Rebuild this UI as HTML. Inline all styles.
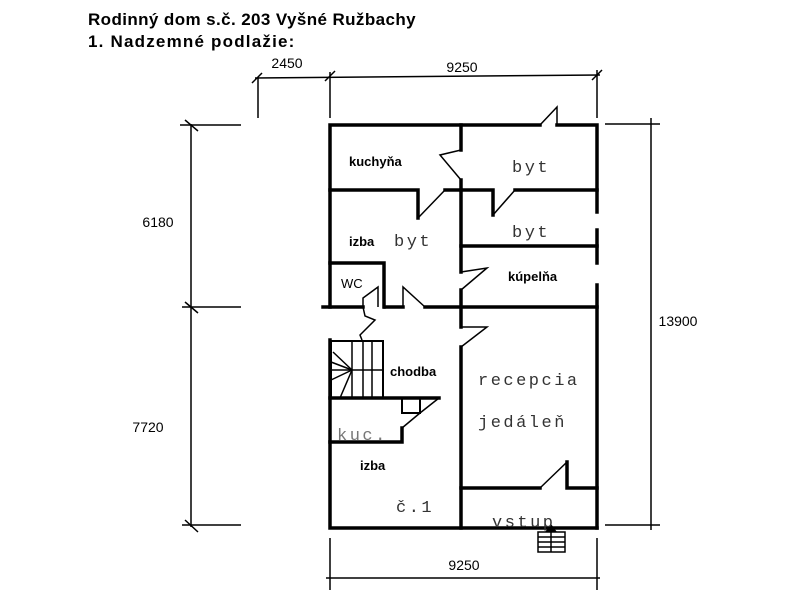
<!DOCTYPE html>
<html><head><meta charset="utf-8"><style>
html,body{margin:0;padding:0;background:#fff;width:800px;height:600px;overflow:hidden}
svg{display:block}
.t{font-family:"Liberation Sans",sans-serif;font-weight:bold}
.s{font-family:"Liberation Sans",sans-serif;font-size:13px}
.m{font-family:"Liberation Mono",monospace;font-size:17px;letter-spacing:2.5px}
</style></head><body>
<svg width="800" height="600" viewBox="0 0 800 600" xmlns="http://www.w3.org/2000/svg">
<text x="88" y="25" class="t" font-size="17" letter-spacing="0.4">Rodinný dom s.č. 203 Vyšné Ružbachy</text>
<text x="88" y="47" class="t" font-size="17" letter-spacing="1.2">1. Nadzemné podlažie:</text>
<g stroke="#000" stroke-width="1.5" fill="none">
<line x1="255" y1="78" x2="600" y2="75"/>
<line x1="258" y1="78" x2="258" y2="118"/>
<line x1="330" y1="72" x2="330" y2="118"/>
<line x1="597" y1="70" x2="597" y2="118"/>
<line x1="252" y1="83" x2="262" y2="73"/><line x1="325" y1="81" x2="335" y2="71"/><line x1="592" y1="80" x2="602" y2="70"/>
<line x1="191" y1="124" x2="191" y2="527"/>
<line x1="180" y1="125" x2="241" y2="125"/>
<line x1="182" y1="307" x2="241" y2="307"/>
<line x1="182" y1="525" x2="241" y2="525"/>
<line x1="185" y1="120" x2="198" y2="131"/><line x1="185" y1="302" x2="198" y2="313"/><line x1="185" y1="520" x2="198" y2="532"/>
<line x1="651" y1="118" x2="651" y2="530"/>
<line x1="605" y1="124" x2="660" y2="124"/>
<line x1="605" y1="525" x2="660" y2="525"/>
<line x1="330" y1="538" x2="330" y2="590"/>
<line x1="597" y1="538" x2="597" y2="590"/>
<line x1="326" y1="578" x2="600" y2="578"/>
</g>
<g stroke="#000" stroke-width="3.5" fill="none" stroke-linecap="square">
<polyline points="330,307 330,125 540,125"/>
<polyline points="557,125 597,125 597,212"/>
<line x1="597" y1="230" x2="597" y2="263"/>
<line x1="597" y1="285" x2="597" y2="528"/>
<polyline points="330,340 330,528 597,528"/>
<line x1="461" y1="125" x2="461" y2="150"/>
<line x1="461" y1="180" x2="461" y2="272"/>
<line x1="461" y1="290" x2="461" y2="327"/>
<line x1="461" y1="347" x2="461" y2="528"/>
<polyline points="330,190 418,190 418,218"/>
<line x1="445" y1="190" x2="461" y2="190"/>
<polyline points="461,190 493,190 493,215"/>
<line x1="515" y1="190" x2="597" y2="190"/>
<line x1="461" y1="246" x2="597" y2="246"/>
<line x1="323" y1="307" x2="363" y2="307"/>
<line x1="385" y1="307" x2="403" y2="307"/>
<line x1="425" y1="307" x2="597" y2="307"/>
<polyline points="330,263 384,263 384,307"/>
<rect x="331" y="341" width="52" height="57" stroke-width="2"/>
<line x1="330" y1="398" x2="439" y2="398"/>
<polyline points="402,398 402,413 420,413 420,398" stroke-width="2"/>
<polyline points="330,442 402,442 402,428"/>
<line x1="461" y1="488" x2="540" y2="488"/>
<polyline points="567,462 567,488 597,488"/>
</g>
<g stroke="#000" stroke-width="1.5" fill="none">
<polyline points="540,125 557,107 557,125"/>
<polyline points="461,150 440,155 461,180"/>
<polyline points="418,218 445,190"/>
<polyline points="493,215 515,190"/>
<polyline points="461,272 487,268 461,290"/>
<polyline points="363,307 363,298 378,287 378,307"/>
<polyline points="403,307 403,287 425,307"/>
<polyline points="363,307 365,316 375,320 360,335 362,340"/>
<polyline points="461,327 487,327 461,347"/>
<polyline points="420,413 439,398"/>
<polyline points="402,428 420,413"/>
<polyline points="540,488 567,462"/>
<line x1="352" y1="341" x2="352" y2="398"/>
<line x1="363" y1="341" x2="363" y2="398"/>
<line x1="372" y1="341" x2="372" y2="398"/>
<line x1="331" y1="370" x2="383" y2="370"/>
<line x1="352" y1="370" x2="333" y2="352"/>
<line x1="352" y1="370" x2="331" y2="362"/>
<line x1="352" y1="370" x2="331" y2="380"/>
<line x1="352" y1="370" x2="340" y2="398"/>
<rect x="538" y="532" width="27" height="20"/>
<line x1="538" y1="537" x2="565" y2="537"/><line x1="538" y1="542" x2="565" y2="542"/><line x1="538" y1="547" x2="565" y2="547"/>
<line x1="551" y1="532" x2="551" y2="552"/>
</g>
<path d="M545,532 L551,524 L557,532Z" fill="#000"/>
<g class="s" font-weight="bold">
<text x="349" y="166">kuchyňa</text>
<text x="349" y="246">izba</text>
<text x="341" y="288" font-weight="normal">WC</text>
<text x="508" y="281">kúpelňa</text>
<text x="390" y="376">chodba</text>
<text x="360" y="470">izba</text>
</g>
<g font-family="Liberation Sans" font-size="14" text-anchor="middle">
<text x="158" y="227">6180</text>
<text x="148" y="432">7720</text>
<text x="678" y="326">13900</text>
<text x="287" y="68">2450</text>
<text x="462" y="72">9250</text>
<text x="464" y="570">9250</text>
</g>
<g class="m" fill="#333">
<text x="512" y="172">byt</text>
<text x="394" y="246">byt</text>
<text x="512" y="237">byt</text>
<text x="478" y="385">recepcia</text>
<text x="478" y="427">jedáleň</text>
<text x="337" y="440" fill="#777">kuc.</text>
<text x="396" y="512">č.1</text>
<text x="492" y="527">vstup</text>
</g>
</svg>
</body></html>
